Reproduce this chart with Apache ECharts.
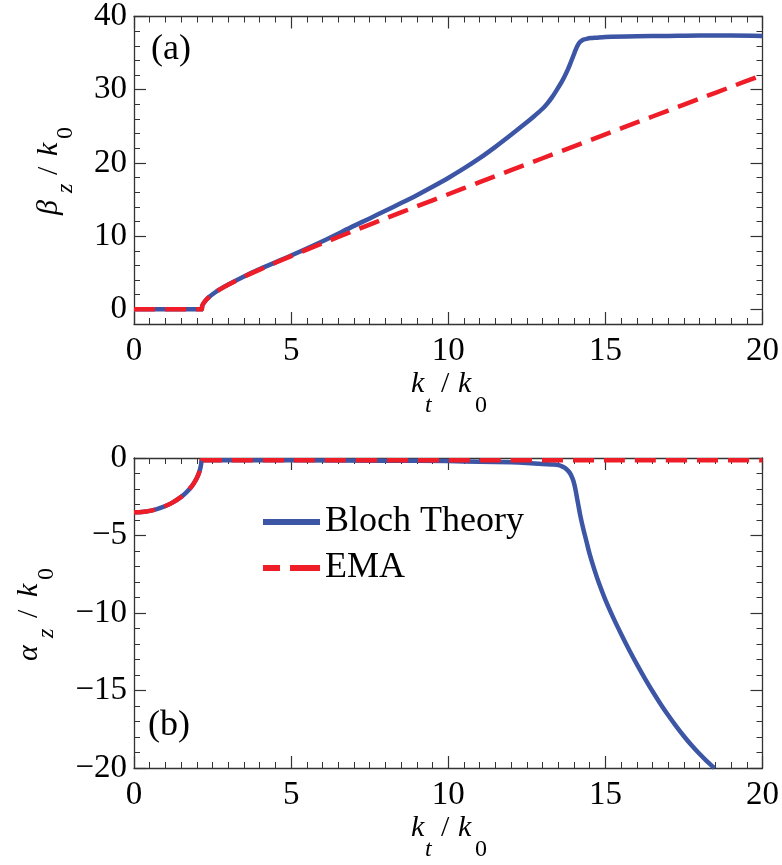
<!DOCTYPE html>
<html><head><meta charset="utf-8">
<script src="https://cdn.jsdelivr.net/npm/echarts@6/dist/echarts.min.js"></script>
<style>html,body{margin:0;padding:0;background:#fff}#c{width:782px;height:865px}</style>
</head><body><div id="c"></div>
<script>
// ---------- data ----------
const ktBetaBloch = [0, 1, 2, 2.15, 2.17, 2.2, 2.3, 2.4, 2.5, 2.6, 2.75, 3, 3.5, 4, 5, 6, 7, 7.5, 8, 8.5, 9, 9.5, 10, 10.5, 11, 11.5, 12, 12.5, 12.75, 13, 13.15, 13.3, 13.45, 13.6, 13.7, 13.8, 13.9, 14.0, 14.05, 14.1, 14.15, 14.2, 14.25, 14.3, 14.4, 14.55, 14.7, 15, 16, 17, 18, 19, 20];
const betaBloch   = [0, 0, 0, 0, 0.45, 0.75, 1.32, 1.73, 2.07, 2.37, 2.79, 3.4, 4.5, 5.5, 7.35, 9.3, 11.4, 12.42, 13.47, 14.52, 15.6, 16.75, 17.95, 19.25, 20.65, 22.2, 23.85, 25.55, 26.45, 27.4, 28.1, 28.95, 29.95, 31.0, 31.8, 32.7, 33.75, 34.85, 35.4, 35.9, 36.28, 36.55, 36.72, 36.83, 36.95, 37.05, 37.1, 37.2, 37.3, 37.35, 37.4, 37.4, 37.35];

const ktBetaEMA = [0, 1, 2, 2.15, 2.17, 2.2, 2.3, 2.4, 2.5, 2.6, 2.75, 3, 3.5, 4, 5, 6, 7, 8, 9, 10, 11, 12, 13, 14, 15, 16, 17, 18, 19, 20];
const betaEMA   = [0, 0, 0, 0, 0.45, 0.75, 1.32, 1.72, 2.05, 2.35, 2.76, 3.37, 4.45, 5.43, 7.27, 9.02, 10.73, 12.41, 14.07, 15.72, 17.37, 19.01, 20.64, 22.27, 23.9, 25.53, 27.15, 28.77, 30.39, 32.01];

const ktAlphaBloch = [0, 0.25, 0.5, 0.75, 1, 1.25, 1.5, 1.65, 1.8, 1.9, 1.95, 2.0, 2.05, 2.08, 2.1, 2.12, 2.14, 2.15, 3, 5, 8, 10, 11, 12, 12.5, 13, 13.3, 13.5, 13.6, 13.7, 13.8, 13.88, 13.95, 14.0, 14.05, 14.1, 14.15, 14.2, 14.3, 14.4, 14.5, 14.65, 14.8, 15, 15.25, 15.5, 15.75, 16, 16.25, 16.5, 16.75, 17, 17.25, 17.5, 17.75, 18, 18.25, 18.47];
const alphaBloch   = [-3.5, -3.48, -3.41, -3.28, -3.1, -2.85, -2.51, -2.25, -1.92, -1.64, -1.48, -1.29, -1.06, -0.89, -0.75, -0.58, -0.34, -0.15, -0.15, -0.15, -0.17, -0.2, -0.24, -0.28, -0.32, -0.38, -0.42, -0.45, -0.52, -0.62, -0.8, -1.0, -1.3, -1.6, -2.05, -2.6, -3.15, -3.7, -4.6, -5.4, -6.2, -7.2, -8.1, -9.15, -10.3, -11.35, -12.35, -13.3, -14.2, -15.05, -15.85, -16.6, -17.3, -17.95, -18.55, -19.1, -19.6, -20.0];

const ktAlphaEMA = [0, 0.25, 0.5, 0.75, 1, 1.25, 1.5, 1.65, 1.8, 1.9, 1.95, 2.0, 2.05, 2.08, 2.1, 2.12, 2.14, 2.15, 3, 5, 10, 15, 20];
const alphaEMA   = [-3.5, -3.48, -3.41, -3.28, -3.1, -2.85, -2.51, -2.25, -1.92, -1.64, -1.48, -1.29, -1.06, -0.89, -0.75, -0.58, -0.34, -0.15, -0.15, -0.15, -0.15, -0.15, -0.15];

const xTicks = [0, 5, 10, 15, 20];
const betaMajorTicks = [0, 10, 20, 30, 40];
const betaMinorTicks = [2, 4, 6, 8, 12, 14, 16, 18, 22, 24, 26, 28, 32, 34, 36, 38];
const alphaTicks = [0, -5, -10, -15, -20];
const seriesNames = ['Bloch Theory', 'EMA'];

// ---------- styling ----------
const FONT = 'Liberation Serif';
const CFONT = '"Liberation Serif"';
const AX = '#333';
const BLUE = '#3c55a5';
const RED = '#ee1d28';
const zip = (a, b) => a.map((v, i) => [v, b[i]]);
const minus = v => String(v).replace('-', '\u2212');
const labelStyle = { fontFamily: FONT, fontSize: 33, color: '#000' };

function xAx(grid, pos, showLabel) {
  return {
    type: 'value', gridIndex: grid, position: pos,
    min: xTicks[0], max: xTicks[xTicks.length - 1], interval: 5,
    axisLine: { show: true, onZero: false, lineStyle: { color: AX, width: 1.3 } },
    axisTick: { show: true, inside: true, length: 12, lineStyle: { color: AX, width: 1.2 } },
    minorTick: { show: true, splitNumber: 10, length: 6, lineStyle: { color: AX, width: 1 } },
    axisLabel: Object.assign({ show: showLabel, margin: 11 }, labelStyle),
    splitLine: { show: false }, minorSplitLine: { show: false }
  };
}
function yBetaMajor(pos, showLabel) {
  return {
    type: 'value', gridIndex: 0, position: pos, min: -2, max: 40,
    axisLine: { show: true, onZero: false, lineStyle: { color: AX, width: 1.3 } },
    axisTick: { show: true, inside: true, length: 12, customValues: betaMajorTicks, lineStyle: { color: AX, width: 1.2 } },
    axisLabel: Object.assign({ show: showLabel, customValues: betaMajorTicks, margin: 7 }, labelStyle),
    splitLine: { show: false }
  };
}
function yBetaMinor(pos) {
  return {
    type: 'value', gridIndex: 0, position: pos, min: -2, max: 40,
    axisLine: { show: false, onZero: false },
    axisTick: { show: true, inside: true, length: 6, customValues: betaMinorTicks, lineStyle: { color: AX, width: 1 } },
    axisLabel: { show: false },
    splitLine: { show: false }
  };
}
function yAlpha(pos, showLabel) {
  return {
    type: 'value', gridIndex: 1, position: pos,
    min: alphaTicks[alphaTicks.length - 1], max: alphaTicks[0], interval: 5,
    axisLine: { show: true, onZero: false, lineStyle: { color: AX, width: 1.3 } },
    axisTick: { show: true, inside: true, length: 12, lineStyle: { color: AX, width: 1.2 } },
    minorTick: { show: true, splitNumber: 5, length: 6, lineStyle: { color: AX, width: 1 } },
    axisLabel: Object.assign({ show: showLabel, margin: 7, formatter: minus }, labelStyle),
    splitLine: { show: false }, minorSplitLine: { show: false }
  };
}

const MAIN_FS = 30, SUB_FS = 24;
function mathLabel(parts, x, y, rotation, subDrop) {
  return {
    type: 'group', x: x, y: y, rotation: rotation || 0, silent: true,
    children: parts.map(p => {
      const fs = p.sub ? SUB_FS : MAIN_FS;
      return {
        type: 'text', x: p.dx, y: (p.sub ? subDrop : 0) - 0.3 * fs,
        style: {
          text: p.t, font: (p.it ? 'italic ' : '') + fs + 'px ' + CFONT, fill: '#000',
          align: 'left', verticalAlign: 'middle'
        }
      };
    })
  };
}
function plainText(t, x, y) {
  return {
    type: 'text', x: x, y: y, silent: true,
    style: { text: t, font: '36px ' + CFONT, fill: '#000', align: 'left', verticalAlign: 'middle' }
  };
}

const xTitleParts = [
  { t: 'k', it: true, dx: 411 }, { t: 't', it: true, sub: true, dx: 425 },
  { t: '/', dx: 441 }, { t: 'k', it: true, dx: 458 }, { t: '0', sub: true, dx: 475 }
];
const betaTitleParts = [
  { t: '\u03B2', it: true, dx: -44 }, { t: 'z', it: true, sub: true, dx: -22 },
  { t: '/', dx: -4 }, { t: 'k', it: true, dx: 15 }, { t: '0', sub: true, dx: 32 }
];
const alphaTitleParts = [
  { t: '\u03B1', it: true, dx: -48 }, { t: 'z', it: true, sub: true, dx: -25 },
  { t: '/', dx: -5 }, { t: 'k', it: true, dx: 16 }, { t: '0', sub: true, dx: 33 }
];

const lineCommon = { symbol: 'none', smooth: 0.3 };
const option = {
  animation: false,
  backgroundColor: '#fff',
  grid: [
    { left: 134, top: 14, width: 629, height: 310, containLabel: false },
    { left: 134, top: 458, width: 629, height: 310, containLabel: false }
  ],
  xAxis: [xAx(0, 'bottom', true), xAx(0, 'top', false), xAx(1, 'bottom', true), xAx(1, 'top', false)],
  yAxis: [yBetaMajor('left', true), yBetaMinor('left'), yBetaMajor('right', false), yBetaMinor('right'),
          yAlpha('left', true), yAlpha('right', false)],
  legend: {
    orient: 'vertical', left: 260, top: 504, padding: 0, itemWidth: 57, itemHeight: 20, itemGap: 10,
    textStyle: { fontFamily: FONT, fontSize: 36, lineHeight: 36, color: '#000' },
    itemStyle: { opacity: 0, borderWidth: 0 },
    data: [
      { name: seriesNames[0], lineStyle: { width: 6 }, itemStyle: { opacity: 0, borderWidth: 0 } },
      { name: seriesNames[1], lineStyle: { width: 6, type: [17, 10, 30, 10] }, itemStyle: { opacity: 0, borderWidth: 0 } }
    ],
    selectedMode: false
  },
  series: [
    Object.assign({ type: 'line', name: seriesNames[0], xAxisIndex: 0, yAxisIndex: 0, data: zip(ktBetaBloch, betaBloch),
      lineStyle: { color: BLUE, width: 4.5, join: 'round' }, itemStyle: { color: BLUE }, z: 3 }, lineCommon),
    Object.assign({ type: 'line', name: seriesNames[1], xAxisIndex: 0, yAxisIndex: 0, data: zip(ktBetaEMA, betaEMA),
      lineStyle: { color: RED, width: 4.5, type: [21, 10] }, itemStyle: { color: RED }, z: 4 }, lineCommon),
    Object.assign({ type: 'line', name: seriesNames[0], xAxisIndex: 2, yAxisIndex: 4, data: zip(ktAlphaBloch, alphaBloch),
      lineStyle: { color: BLUE, width: 4.5, join: 'round' }, itemStyle: { color: BLUE }, z: 3 }, lineCommon),
    Object.assign({ type: 'line', name: seriesNames[1], xAxisIndex: 2, yAxisIndex: 4, data: zip(ktAlphaEMA, alphaEMA),
      lineStyle: { color: RED, width: 4.5, type: [21, 10] }, itemStyle: { color: RED }, z: 4 }, lineCommon)
  ],
  graphic: [
    mathLabel(xTitleParts, 0, 393, 0, 20),
    mathLabel(xTitleParts, 0, 837, 0, 20),
    mathLabel(betaTitleParts, 58, 171, Math.PI / 2, 15),
    mathLabel(alphaTitleParts, 38, 613, Math.PI / 2, 16),
    plainText('(a)', 151, 50),
    plainText('(b)', 148, 726)
  ]
};
const chart = echarts.init(document.getElementById('c'), null, { renderer: 'canvas' });
chart.setOption(option);
</script>
</body></html>
